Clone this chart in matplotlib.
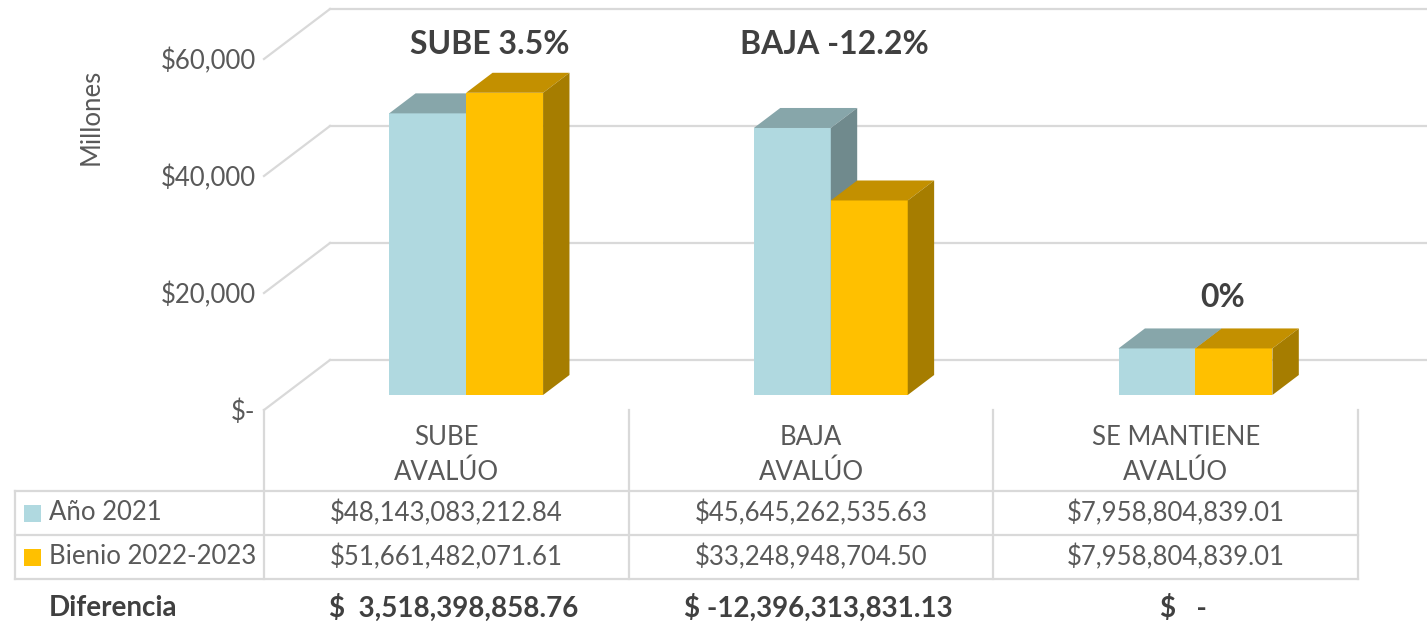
import matplotlib
matplotlib.use("Agg")
import matplotlib.pyplot as plt
from matplotlib.patches import Polygon, Rectangle

plt.rcParams["font.family"] = ["Lato", "DejaVu Sans"]

# data
categories = ["SUBE\nAVALÚO", "BAJA\nAVALÚO", "SE MANTIENE\nAVALÚO"]
series_names = ["Año 2021", "Bienio 2022-2023"]
anio_2021 = [48143083212.84, 45645262535.63, 7958804839.01]
bienio_2022_2023 = [51661482071.61, 33248948704.50, 7958804839.01]
diferencia = ["$  3,518,398,858.76", "$ -12,396,313,831.13", "$   -"]
change_labels = ["SUBE 3.5%", "BAJA -12.2%", "0%"]
y_ticks = [0, 20000, 40000, 60000]

# style
FRONT = ["#B0D9E0", "#FFC000"]
TOP = ["#87A6AA", "#C39000"]
SIDE = ["#708A8D", "#A67D00"]
GRID = "#D9D9D9"
TEXT = "#595959"
BOLD = "#404040"

W, H = 1427, 626
fig = plt.figure(figsize=(W / 100, H / 100), dpi=100)
fig.patch.set_facecolor("white")

# chart area: front plane from x=264..1358 px, y=410 (0) .. 59 (60000) px
ax = fig.add_axes([264 / W, (H - 410) / H, (1358 - 264) / W, (410 - 59) / H])
ax.set_xlim(0, 3)
ax.set_ylim(0, 60000)
for sp in ax.spines.values():
    sp.set_visible(False)
ax.set_xticks([])
ax.set_yticks(y_ticks)
ax.set_yticklabels(["$-" if v == 0 else f"${v:,.0f}" for v in y_ticks],
                   fontsize=18.5, color=TEXT)
ax.tick_params(axis="y", length=0, pad=6)
ax.set_ylabel("Millones", fontsize=18.5, color=TEXT)
ax.yaxis.set_label_coords(-0.147, 0.835)

# pseudo-3D depth offset (full depth of floor)
DX = 66 / 364.7
DY = 50 / (351 / 60000)


def proj(x, y, d):
    return (x + d * DX, y + d * DY)


# back wall gridlines and side diagonals
for v in y_ticks:
    a, b = proj(0, v, 1), proj(3.2, v, 1)
    ax.plot([a[0], b[0]], [a[1], b[1]], color=GRID, lw=1.6, clip_on=False, zorder=1)
    c = proj(0, v, 0)
    ax.plot([c[0], a[0]], [c[1], a[1]], color=GRID, lw=1.6, clip_on=False, zorder=1)

# bars
bw = 0.211
d0, d1 = 0.3, 0.7
for i in range(len(categories)):
    for s, vals in enumerate([anio_2021, bienio_2022_2023]):
        h = vals[i] / 1e6
        x0 = i + 0.5 - bw + s * bw
        x1 = x0 + bw
        front = [proj(x0, 0, d0), proj(x1, 0, d0), proj(x1, h, d0), proj(x0, h, d0)]
        top = [proj(x0, h, d0), proj(x1, h, d0), proj(x1, h, d1), proj(x0, h, d1)]
        side = [proj(x1, 0, d0), proj(x1, 0, d1), proj(x1, h, d1), proj(x1, h, d0)]
        for pts, col in [(front, FRONT[s]), (top, TOP[s]), (side, SIDE[s])]:
            ax.add_patch(Polygon(pts, closed=True, facecolor=col, edgecolor="none",
                                 clip_on=False, zorder=3))

# change labels above bars
label_y = [62400, 62400, 19300]
label_dx = [0.12, 0.065, 0.13]
for i, txt in enumerate(change_labels):
    ax.text(i + 0.5 + label_dx[i], label_y[i], txt, ha="center", va="center",
            fontsize=23, fontweight="bold", color=BOLD, clip_on=False)

# data table (y in pixel rows)
axt = fig.add_axes([264 / W, 0, (1358 - 264) / W, (H - 410) / H])
axt.set_xlim(0, 3)
axt.set_ylim(626, 410)
axt.axis("off")


def px(xp):
    return (xp - 264) / 364.7


left = px(15)
for yl in [491, 535, 579]:
    axt.plot([left, 3], [yl, yl], color=GRID, lw=1.6, clip_on=False)
for xl in [0, 1, 2, 3]:
    axt.plot([xl, xl], [410, 579], color=GRID, lw=1.6, clip_on=False)
axt.plot([left, left], [491, 579], color=GRID, lw=1.6, clip_on=False)

for i, cat in enumerate(categories):
    axt.text(i + 0.5, 455, cat, ha="center", va="center", fontsize=18.5,
             color=TEXT, linespacing=1.45)

row_y = [513, 557]
for s, vals in enumerate([anio_2021, bienio_2022_2023]):
    axt.add_patch(Rectangle((px(24), row_y[s] + 8.5), px(41) - px(24), -17,
                            facecolor=FRONT[s], edgecolor="none", clip_on=False))
    axt.text(px(49), row_y[s], series_names[s], ha="left", va="center",
             fontsize=18.5, color=TEXT, clip_on=False)
    for i, v in enumerate(vals):
        axt.text(i + 0.5, row_y[s], f"${v:,.2f}", ha="center", va="center",
                 fontsize=18.5, color=TEXT)

axt.text(px(49), 608, "Diferencia", ha="left", va="center", fontsize=20,
         fontweight="bold", color=BOLD, clip_on=False)
for i, txt in enumerate(diferencia):
    axt.text(i + 0.5 + 0.02, 608, txt, ha="center", va="center", fontsize=20,
             fontweight="bold", color=BOLD)

fig.savefig("out.png", dpi=100)
